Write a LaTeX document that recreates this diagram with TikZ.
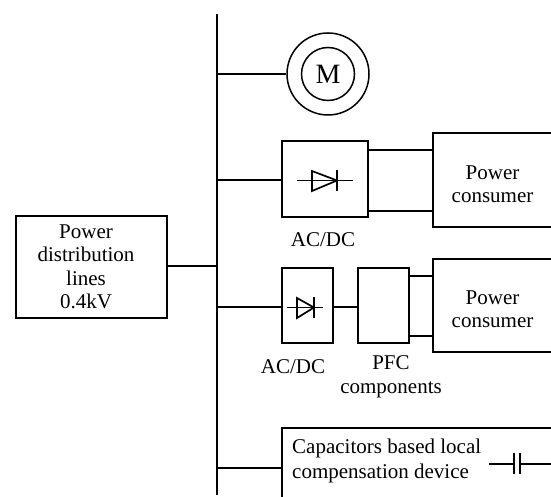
\documentclass[tikz,border=0pt]{standalone}
\usepackage{fontspec}
\setmainfont{Liberation Serif}
\usetikzlibrary{positioning,arrows.meta,calc}

\begin{document}
\begin{tikzpicture}[
    x=1pt, y=-1pt,
    box/.style={draw, line width=1.7pt, inner sep=0pt},
    lbl/.style={inner sep=0pt, align=center, font=\fontsize{21}{23.5}\selectfont},
    wire/.style={line width=1.7pt},
    part/.style={line width=1.7pt}
  ]
  \useasboundingbox (0,0) rectangle (551,497);
  \clip (0,0) rectangle (551,497);

  % bus
  \coordinate (bustop) at (216.5,14);
  \coordinate (busbot) at (216.5,495);
  \draw[line width=2pt] (bustop) -- (busbot);

  \node[box, minimum width=151pt, minimum height=102pt] (lines) at (91.5,267) {};
  \node[lbl] (lineslbl) at (86,267) {Power\\distribution\\lines\\0.4kV};
  \coordinate (busin) at (216.5,266);
  \draw[wire] (lines.east |- busin) -- (busin);

  % motor
  \node[draw, circle, line width=1.5pt, minimum size=82pt, inner sep=0pt] (motorout) at (328,74) {};
  \node[draw, circle, line width=1.5pt, minimum size=53pt, inner sep=0pt, font=\fontsize{28}{28}\selectfont] (motor) at (328,74) {M};
  \coordinate (busm) at (216.5,74);
  \draw[wire] (busm) -- (motorout);

  % upper branch
  \node[box, minimum width=86pt, minimum height=76pt] (rect) at (325,179) {};
  \node[box, minimum width=120pt, minimum height=94pt] (load) at (493,180) {};
  \node[lbl] (loadlbl) at (492.5,184) {Power\\consumer};
  \node[lbl] (rectlbl) at (323,240) {AC/DC};
  \coordinate (busr) at (216.5,180);
  \draw[wire] (busr) -- (busr -| rect.west);
  \draw[wire] (rect.east |- 0,150) -- (load.west |- 0,150);
  \draw[wire] (rect.east |- 0,211) -- (load.west |- 0,211);
  \draw[part] (297,180.5) -- (353,180.5);
  \draw[part] (312,171) -- (337,180.5) -- (312,191) -- cycle;
  \draw[part] (337,170) -- (337,191);

  % lower branch
  \node[box, minimum width=51pt, minimum height=75pt] (recttwo) at (307.5,305.5) {};
  \node[box, minimum width=51pt, minimum height=75pt] (pfc) at (383.5,305.5) {};
  \node[box, minimum width=120pt, minimum height=93pt] (loadtwo) at (493,305.5) {};
  \node[lbl] (loadtwolbl) at (492.5,309) {Power\\consumer};
  \node[lbl] (recttwolbl) at (293,367) {AC/DC};
  \node[lbl] (pfclbl) at (391,377) {PFC\\components};
  \coordinate (busp) at (216.5,307);
  \draw[wire] (busp) -- (busp -| recttwo.west);
  \draw[wire] (recttwo.east |- busp) -- (pfc.west |- busp);
  \draw[wire] (pfc.east |- 0,276) -- (loadtwo.west |- 0,276);
  \draw[wire] (pfc.east |- 0,336) -- (loadtwo.west |- 0,336);
  \draw[part] (287,307.5) -- (323,307.5);
  \draw[part] (297,298) -- (314,307.5) -- (297,318) -- cycle;
  \draw[part] (314,297) -- (314,318);

  % compensation
  \node[box, minimum width=275pt, minimum height=80pt] (comp) at (419.5,468) {};
  \node[lbl, anchor=west, align=left, font=\fontsize{21}{25}\selectfont] (complbl) at (292,460.5) {Capacitors based local\\compensation device};
  \coordinate (busc) at (216.5,468);
  \draw[wire] (busc) -- (comp.west);
  \draw[part] (489,464) -- (514,464) (514,453) -- (514,474) (520,453) -- (520,474) (520,464) -- (551,464);
\end{tikzpicture}
\end{document}
